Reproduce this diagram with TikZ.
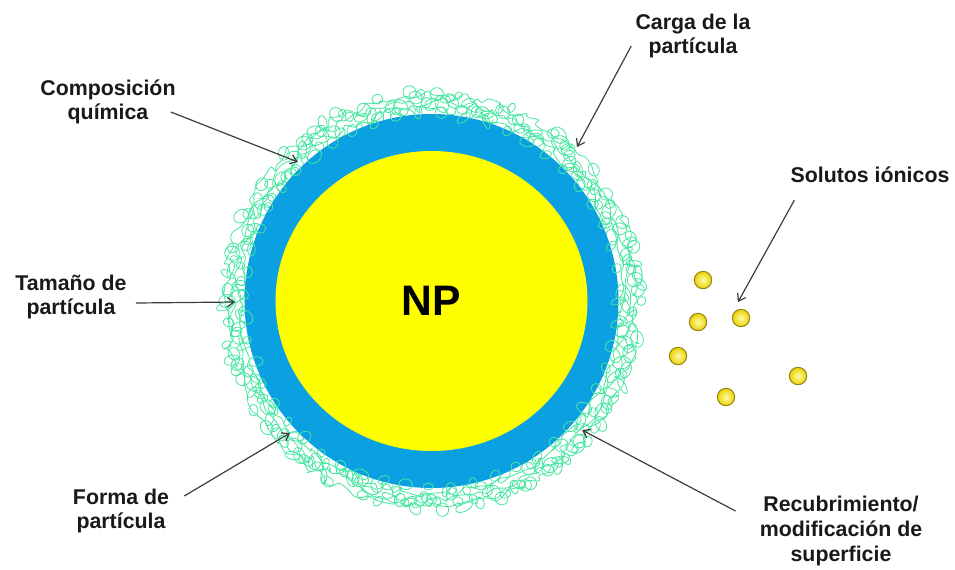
\documentclass[tikz,border=0pt]{standalone}
\usepackage{fontspec}
\setmainfont{Liberation Sans}
\usetikzlibrary{arrows.meta,decorations.pathmorphing}
\definecolor{shellblue}{RGB}{10,160,225}
\definecolor{coreyellow}{RGB}{255,255,0}
\definecolor{fuzzgreen}{RGB}{70,230,160}
\definecolor{ionedge}{RGB}{150,135,20}
\definecolor{arrowgray}{RGB}{60,60,60}
\tikzset{%
	lbl/.style     = {font=\bfseries\fontsize{16}{18.5}\selectfont, text=black!90, align=center, inner sep=0pt},
	pointer/.style = {draw=arrowgray, line width=0.9pt, -{Straight Barb[length=5pt,width=7pt]}},
	fuzz/.style    = {draw=fuzzgreen, line width=0.6pt},
	ion/.style     = {circle, minimum size=13pt, inner sep=0pt, draw=ionedge, line width=0.8pt, inner color={rgb,255:red,255;green,250;blue,170}, outer color={rgb,255:red,235;green,210;blue,0}},
}

\begin{document}
\begin{tikzpicture}[x=0.75pt,y=-0.75pt]
	\useasboundingbox (0,0) rectangle (955,569);
	\coordinate (np) at (431.5,301);
	
	% fuzzy coating
	\begin{scope}[shift={(np)}]
		\pgfmathsetseed{17}
		\foreach \rr in {192,199,206}
			\draw[fuzz, decorate, decoration={random steps, segment length=5pt, amplitude=4pt}, rounded corners=2pt] (0,0) circle (\rr);
		\foreach \a in {0,1.5,...,358.5}{
			\pgfmathsetmacro{\rad}{188+22*rnd}
			\pgfmathsetmacro{\rx}{4+5*rnd}
			\pgfmathsetmacro{\ry}{3+4*rnd}
			\pgfmathsetmacro{\rot}{360*rnd}
			\draw[fuzz, rotate around={\rot:(\a:\rad)}] (\a:\rad) ellipse [x radius=\rx, y radius=\ry];
		}
	\end{scope}
	
	% particle
	\fill[shellblue] (np) circle (187);
	\fill[coreyellow] (np) ellipse [x radius=156, y radius=150];
	\node[font=\bfseries\fontsize{32}{36}\selectfont, inner sep=0pt] (core) at (np) {NP};
	
	% coating over the shell edge
	\begin{scope}[shift={(np)}]
		\pgfmathsetseed{5}
		\foreach \a in {0,7,...,357}{
			\pgfmathsetmacro{\rad}{185+4*rnd}
			\pgfmathsetmacro{\rx}{4+4*rnd}
			\pgfmathsetmacro{\ry}{3+3*rnd}
			\pgfmathsetmacro{\rot}{360*rnd}
			\draw[fuzz, rotate around={\rot:(\a:\rad)}] (\a:\rad) ellipse [x radius=\rx, y radius=\ry];
		}
	\end{scope}
	
	% ions
	\node[ion] (ion1) at (703,280) {};
	\node[ion] (ion2) at (698,322) {};
	\node[ion] (ion3) at (741,318) {};
	\node[ion] (ion4) at (678,356) {};
	\node[ion] (ion5) at (798,376) {};
	\node[ion] (ion6) at (726,397) {};
	
	% labels
	\node[lbl] (comp)  at (108,102) {Composición\\química};
	\node[lbl] (carga) at (693,36)  {Carga de la\\partícula};
	\node[lbl] (sol)   at (870,175) {Solutos iónicos};
	\node[lbl] (size)  at (71,297)  {Tamaño de\\partícula};
	\node[lbl] (forma) at (121,511) {Forma de\\partícula};
	\node[lbl] (recub) at (841,531) {Recubrimiento/\\modificación de\\superficie};
	
	% arrow tips
	\coordinate (tipcomp)  at (298,162);
	\coordinate (tipcarga) at (577,147);
	\coordinate (tipsol)   at (738,302);
	\coordinate (tipsize)  at (235,302);
	\coordinate (tipforma) at (290,433);
	\coordinate (tiprecub) at (582,430);
	
	\draw[pointer] ([shift={(-5,10)}]comp.east)   -- (tipcomp);
	\draw[pointer] ([shift={(-4,10)}]carga.west)  -- (tipcarga);
	\draw[pointer] ([shift={(4,17)}]sol.south west) -- (tipsol);
	\draw[pointer] ([shift={(9,6)}]size.east)     -- (tipsize);
	\draw[pointer] ([shift={(15,-15)}]forma.east) -- (tipforma);
	\draw[pointer] ([shift={(-24,-20)}]recub.west) -- (tiprecub);
\end{tikzpicture}
\end{document}
